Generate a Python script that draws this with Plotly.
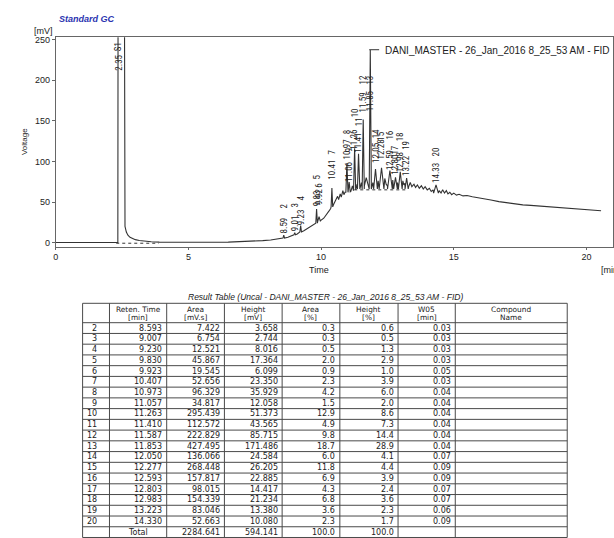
import plotly.graph_objects as go

W, H = 614, 538

# ---- peak table (FID result) ----
peak_no = list(range(2, 21))
ret_time = [8.593, 9.007, 9.230, 9.830, 9.923, 10.407, 10.973, 11.057, 11.263, 11.410,
            11.587, 11.853, 12.050, 12.277, 12.593, 12.803, 12.983, 13.223, 14.330]
area = [7.422, 6.754, 12.521, 45.867, 19.545, 52.656, 96.329, 34.817, 295.439, 112.572,
        222.829, 427.495, 136.066, 268.448, 157.817, 98.015, 154.339, 83.046, 52.663]
height = [3.658, 2.744, 8.016, 17.364, 6.099, 23.350, 35.929, 12.058, 51.373, 43.565,
          85.715, 171.486, 24.584, 26.205, 22.885, 14.417, 21.234, 13.380, 10.080]
area_pct = [0.3, 0.3, 0.5, 2.0, 0.9, 2.3, 4.2, 1.5, 12.9, 4.9,
            9.8, 18.7, 6.0, 11.8, 6.9, 4.3, 6.8, 3.6, 2.3]
height_pct = [0.6, 0.5, 1.3, 2.9, 1.0, 3.9, 6.0, 2.0, 8.6, 7.3,
              14.4, 28.9, 4.1, 4.4, 3.9, 2.4, 3.6, 2.3, 1.7]
w05 = [0.03, 0.03, 0.03, 0.03, 0.05, 0.03, 0.04, 0.04, 0.04, 0.04,
       0.04, 0.04, 0.07, 0.09, 0.09, 0.07, 0.07, 0.06, 0.09]
total_area, total_height, total_area_pct, total_height_pct = 2284.641, 594.141, 100.0, 100.0

# baseline level under each integrated peak [mV]
peak_base = [5.6, 9.5, 13, 24, 26, 44, 62, 62.5, 65, 66,
             66, 66, 66, 66, 66, 66, 66, 66, 61]
# label placement: bottom of retention-time label and centre of peak number [mV]
label_mv = [9.8, 12.3, 19.6, 42.9, 45.3, 76, 101.7, 73.5, 112.7, 109,
            159.3, 160.5, 96.8, 100.5, 88, 83, 85.8, 80.9, 72.3]
num_mv = [45.3, 45.3, 55, 81, 70, 112, 136, 114, 160, 149,
          200, 200, 134, 131, 133, 114, 130, 120, 111]

# solvent peak
solvent_rt, solvent_label_mv, solvent_num_mv = 2.35, 210.8, 241

# detector signal between the integrated peaks [min, mV]
signal_t = [0.00, 0.50, 1.00, 1.50, 2.00, 2.30, 2.34, 2.36, 2.46, 2.56, 2.585, 2.61, 2.66,
            2.72, 2.80, 2.90, 3.00, 3.15, 3.35, 3.60, 3.90, 4.30, 5.00, 6.00, 6.50, 7.00,
            7.40, 7.80, 8.10, 8.40, 8.75, 8.90, 9.10, 9.35, 9.50, 9.65, 9.75, 9.98, 10.10,
            10.20, 10.30, 10.36, 10.47, 10.55, 10.62, 10.66, 10.72, 10.76, 10.82, 10.86,
            10.90, 11.12, 11.18, 11.22, 11.32, 11.36, 11.46, 11.52, 11.55, 11.63, 11.70,
            11.75, 11.80, 11.92, 11.95, 12.15, 12.20, 12.40, 12.45, 12.50, 12.70, 12.88,
            12.90, 13.08, 13.12, 13.16, 13.30, 13.36, 13.42, 13.50, 13.56, 13.63, 13.70,
            13.78, 13.85, 13.92, 14.00, 14.08, 14.15, 14.22, 14.26, 14.45, 14.52, 14.58,
            14.65, 14.72, 14.78, 14.85, 14.92, 15.00, 15.10, 15.20, 15.35, 15.50, 15.70,
            15.90, 16.10, 16.40, 16.70, 17.00, 17.30, 17.60, 17.90, 18.20, 18.50, 18.80,
            19.10, 19.40, 19.70, 20.00, 20.30, 20.55]
signal_mv = [0.0, 0.0, 0.0, 0.0, 0.0, 0.0, 0.3, 700, 900, 700, 32, 20, 13,
             9, 6.5, 4.8, 3.6, 2.5, 1.6, 1.0, 0.6, 0.4, 0.3, 0.4, 0.6, 1.0,
             1.6, 2.4, 3.2, 4.6, 6.5, 8.0, 10.5, 14.5, 17.5, 20, 22, 27, 30,
             34, 39, 42, 47, 52, 57, 53, 60, 56, 64, 59,
             62, 63, 70, 64, 67, 72, 66, 74, 68, 70, 80,
             72, 68, 70, 74, 76, 71, 79, 72, 70, 77, 74,
             70, 76, 71, 73, 69, 74, 69, 72, 68, 71, 67,
             70, 66, 69, 65, 67, 63, 65, 60, 64, 61, 65,
             61, 64, 60, 62, 59, 61, 58.5, 59.5, 57.5, 58, 56.5,
             55.5, 54.5, 52.5, 50.5, 49, 47.5, 46.5, 45.8, 45, 44.2, 43.5,
             43, 42.3, 41.8, 41, 40, 39.2]

# integration baselines drawn dotted [min, mV]
baseline_t = [2.28, 3.88, None, 11.25, 13.27]
baseline_mv = [-0.8, -0.8, None, 65, 65]

# ---- assemble the trace: signal plus triangular peaks with FWHM = W05 ----
pts = [(t, v) for t, v in zip(signal_t, signal_mv)
       if not any(abs(t - rt) <= w for rt, w in zip(ret_time, w05))]
for rt, w, h, b in zip(ret_time, w05, height, peak_base):
    pts += [(rt - w, b), (rt, b + h), (rt + w, b)]
pts.sort()
trace_t = [p[0] for p in pts]
trace_mv = [p[1] for p in pts]

fig = go.Figure()
fig.add_trace(go.Scatter(x=baseline_t, y=baseline_mv, mode="lines",
                         line=dict(color="#333", width=1, dash="dot"),
                         hoverinfo="skip", showlegend=False))
fig.add_trace(go.Scatter(x=trace_t, y=trace_mv, mode="lines",
                         line=dict(color="#333", width=1.1),
                         name="DANI_MASTER - 26_Jan_2016 8_25_53 AM - FID",
                         showlegend=False))

LBL = "Roboto Condensed, Liberation Sans, Arial"
LBL_SIZE = 9
TXT = "#222"
ann = []

# peak labels: retention time and peak number, both reading upwards
ann.append(dict(x=solvent_rt, y=solvent_label_mv, text=f"{solvent_rt:.2f}", textangle=-90,
                xanchor="center", yanchor="bottom", showarrow=False, borderpad=0,
                font=dict(family=LBL, size=LBL_SIZE, color=TXT)))
ann.append(dict(x=solvent_rt, y=solvent_num_mv, text="S1", textangle=-90,
                xanchor="center", yanchor="middle", showarrow=False, borderpad=0,
                font=dict(family=LBL, size=LBL_SIZE, color=TXT)))
for n, rt, ly, ny in zip(peak_no, ret_time, label_mv, num_mv):
    ann.append(dict(x=rt, y=ly, text=f"{rt:.2f}", textangle=-90,
                    xanchor="center", yanchor="bottom", showarrow=False,
                    borderpad=0, font=dict(family=LBL, size=LBL_SIZE, color=TXT)))
    ann.append(dict(x=rt, y=ny, text=str(n), textangle=-90,
                    xanchor="center", yanchor="middle", showarrow=False,
                    borderpad=0, font=dict(family=LBL, size=LBL_SIZE, color=TXT)))


def px(x, y):
    return x / W, 1 - y / H


def pann(x, y, text, size=9, xanchor="center", family="Liberation Sans, Arial",
         color=TXT, angle=0):
    xx, yy = px(x, y)
    ann.append(dict(x=xx, y=yy, xref="paper", yref="paper", text=text,
                    showarrow=False, xanchor=xanchor, yanchor="middle",
                    textangle=angle, borderpad=0,
                    font=dict(family=family, size=size, color=color)))


# chart titles and axis captions
pann(55, 17, "<b><i>Standard GC</i></b>", size=9, xanchor="left", color="#2a33b0")
pann(41, 29, "[mV]", size=9)
pann(21, 140, "Voltage", size=8, angle=-90)
pann(318, 270, "Time", size=9)
pann(600, 270, "[min]", size=9, xanchor="left")
pann(383, 49, "DANI_MASTER - 26_Jan_2016 8_25_53 AM - FID", size=10, xanchor="left")

# ---- result table ----
TBL = "DejaVu Sans, Verdana, sans-serif"
pann(324.5, 297, "<i>Result Table (Uncal - DANI_MASTER - 26_Jan_2016 8_25_53 AM - FID)</i>",
     size=8.5)

col_x = [80, 107, 164.5, 222.5, 280.5, 338.5, 397, 454.5, 567]
top, head_h, row_h = 303, 19.5, 10.8
n_rows = len(peak_no) + 1
bottom = top + head_h + n_rows * row_h

headers = [("", ""), ("Reten. Time", "[min]"), ("Area", "[mV.s]"), ("Height", "[mV]"),
           ("Area", "[%]"), ("Height", "[%]"), ("W05", "[min]"), ("Compound", "Name")]
for c, (l1, l2) in enumerate(headers):
    cx = (col_x[c] + col_x[c + 1]) / 2
    if l1:
        pann(cx, top + 6.5, l1, size=7.4, family=TBL)
        pann(cx, top + 14.3, l2, size=7.4, family=TBL)

rows = []
for i in range(len(peak_no)):
    rows.append([str(peak_no[i]), f"{ret_time[i]:.3f}", f"{area[i]:.3f}", f"{height[i]:.3f}",
                 f"{area_pct[i]:.1f}", f"{height_pct[i]:.1f}", f"{w05[i]:.2f}", ""])
rows.append(["", "Total", f"{total_area:.3f}", f"{total_height:.3f}",
             f"{total_area_pct:.1f}", f"{total_height_pct:.1f}", "", ""])

for r, row in enumerate(rows):
    cy = top + head_h + (r + 0.5) * row_h
    for c, val in enumerate(row):
        if not val:
            continue
        if c == 0:
            pann(95, cy, val, size=8, family=TBL, xanchor="right")
        elif val == "Total":
            pann((col_x[c] + col_x[c + 1]) / 2, cy, val, size=8, family=TBL)
        else:
            pann(col_x[c + 1] - 3.5, cy, val, size=8, family=TBL, xanchor="right")

shapes = []
LC = "#4a4a4a"
for xv in col_x:
    x0, y0 = px(xv, top)
    _, y1 = px(xv, bottom)
    shapes.append(dict(type="line", xref="paper", yref="paper", x0=x0, x1=x0, y0=y0, y1=y1,
                       line=dict(color=LC, width=1)))
h_lines = [top, top + head_h] + [top + head_h + k * row_h for k in range(1, n_rows + 1)]
for yv in h_lines:
    x0, y0 = px(col_x[0], yv)
    x1, _ = px(col_x[-1], yv)
    shapes.append(dict(type="line", xref="paper", yref="paper", x0=x0, x1=x1, y0=y0, y1=y0,
                       line=dict(color=LC, width=1)))

# legend line segment next to the run name
lx0, ly = px(368, 48)
lx1, _ = px(378, 48)
shapes.append(dict(type="line", xref="paper", yref="paper", x0=lx0, x1=lx1, y0=ly, y1=ly,
                   line=dict(color="#333", width=1)))

fig.update_layout(
    width=W, height=H, margin=dict(l=0, r=0, t=0, b=0),
    paper_bgcolor="white", plot_bgcolor="white",
    annotations=ann, shapes=shapes, showlegend=False,
    xaxis=dict(domain=[53 / W, 613 / W], range=[0, 21.0], tickvals=[0, 5, 10, 15, 20],
               showline=True, mirror=True, linecolor="#666", linewidth=1,
               ticks="outside", ticklen=2, tickcolor="#666",
               tickfont=dict(family="Liberation Sans, Arial", size=9, color=TXT),
               showgrid=False, zeroline=False),
    yaxis=dict(domain=[1 - 246 / H, 1 - 35.5 / H], range=[-5, 253],
               tickvals=[0, 50, 100, 150, 200, 250],
               showline=True, mirror=True, linecolor="#666", linewidth=1,
               ticks="outside", ticklen=3, tickcolor="#666",
               tickfont=dict(family="Liberation Sans, Arial", size=9, color=TXT),
               showgrid=False, zeroline=False),
)

fig.write_html("out.html")
